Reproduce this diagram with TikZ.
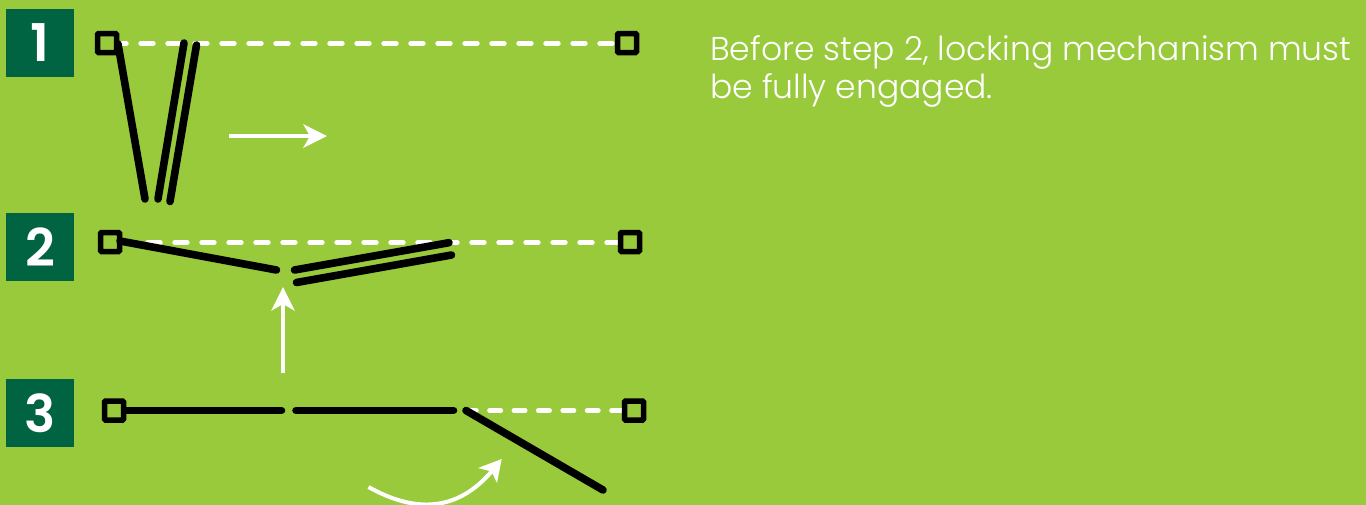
\documentclass[tikz,border=0pt]{standalone}
\usepackage{fontspec}
\setmainfont{Poppins}[UprightFont=* Light]
\newfontfamily\numfont{Poppins}[UprightFont=* SemiBold]
\definecolor{bgreen}{HTML}{99CA3C}
\definecolor{dgreen}{HTML}{006341}
\tikzset{
  numbox/.style={fill=dgreen,text=white,minimum size=68pt,inner sep=0pt,font=\numfont\fontsize{52}{52}\selectfont},
  hinge/.style={draw=black,line width=5.5pt,rounded corners=1pt,minimum size=19pt,inner sep=0pt},
  bar/.style={draw=black,line width=7.6pt,line cap=round},
  dashA/.style={draw=white,line width=4.4pt,line cap=round,dash pattern=on 13pt off 14pt},
  dashB/.style={draw=white,line width=4.4pt,line cap=round,dash pattern=on 11.5pt off 12.9pt},
  movearrow/.style={draw=white,line width=4pt}
}
\newcommand{\arrowhead}[3]{% tip x, tip y, rotation
  \fill[white,shift={(#1,#2)},rotate=#3] (0,0) -- (-24,12) -- (-17,0) -- (-24,-12) -- cycle;}
\begin{document}
\begin{tikzpicture}[x=1pt,y=-1pt]
\useasboundingbox (0,0) rectangle (1366,504);
\fill[bgreen] (-2,-2) rectangle (1368,507);
\node[numbox] (n1) at (40,43) {1};
\node[numbox] (n2) at (40,247) {2};
\node[numbox] (n3) at (40,413) {3};
% step 1
\coordinate (d1a) at (122.5,43.5);
\coordinate (d1b) at (615,43.5);
\draw[dashA,dash phase=9pt] (d1a) -- (d1b);
\node[hinge] (h1l) at (107,43) {};
\node[hinge] (h1r) at (627,43) {};
\coordinate (b1a) at (118,44); \coordinate (b1b) at (145,199);
\coordinate (b1c) at (184,43); \coordinate (b1d) at (158,199);
\coordinate (b1e) at (196.5,45); \coordinate (b1f) at (170,201.5);
\draw[bar] (b1a) -- (b1b);
\draw[bar] (b1c) -- (b1d);
\draw[bar] (b1e) -- (b1f);
% step 2
\coordinate (d2a) at (147.5,242.5);
\coordinate (d2b) at (618,242.5);
\draw[dashA] (d2a) -- (d2b);
\node[hinge] (h2l) at (110,242) {};
\node[hinge] (h2r) at (630,242) {};
\coordinate (b2a) at (120,241); \coordinate (b2b) at (276.5,270);
\coordinate (b2c) at (294.5,270); \coordinate (b2d) at (449,242.7);
\coordinate (b2e) at (296.5,282.5); \coordinate (b2f) at (451.5,255);
\draw[bar] (b2a) -- (b2b);
\draw[bar] (b2c) -- (b2d);
\draw[bar] (b2e) -- (b2f);
% step 3
\coordinate (d3a) at (470,410.5);
\coordinate (d3b) at (622,410.5);
\draw[dashB,dash phase=5pt] (d3a) -- (d3b);
\node[hinge] (h3l) at (114,410.5) {};
\node[hinge] (h3r) at (634,410.5) {};
\coordinate (b3a) at (125,410.5); \coordinate (b3b) at (281.5,410.5);
\coordinate (b3c) at (296,410.5); \coordinate (b3d) at (453.5,410.5);
\coordinate (b3e) at (466,410.5); \coordinate (b3f) at (603,490);
\draw[bar] (b3a) -- (b3b);
\draw[bar] (b3c) -- (b3d);
\draw[bar] (b3e) -- (b3f);
% arrows
\coordinate (a1s) at (229,136); \coordinate (a1e) at (312,136);
\draw[movearrow] (a1s) -- (a1e);
\arrowhead{327}{136}{0}
\coordinate (a2s) at (283,373); \coordinate (a2e) at (283,302);
\draw[movearrow] (a2s) -- (a2e);
\arrowhead{283}{287}{90}
\coordinate (a3s) at (368.5,487); \coordinate (a3e) at (492,471);
\draw[movearrow] (a3s) .. controls (415,513) and (457,512) .. (a3e);
\fill[white] (501.7,459) -- (478,468) -- (491.5,471.5) -- (497,483) -- cycle;
\node[anchor=base west,text=white,inner sep=0pt,font=\fontsize{33}{38}\selectfont,align=left] (txt) at (710,98) {Before step 2, locking mechanism must\\be fully engaged.};
\end{tikzpicture}
\end{document}
